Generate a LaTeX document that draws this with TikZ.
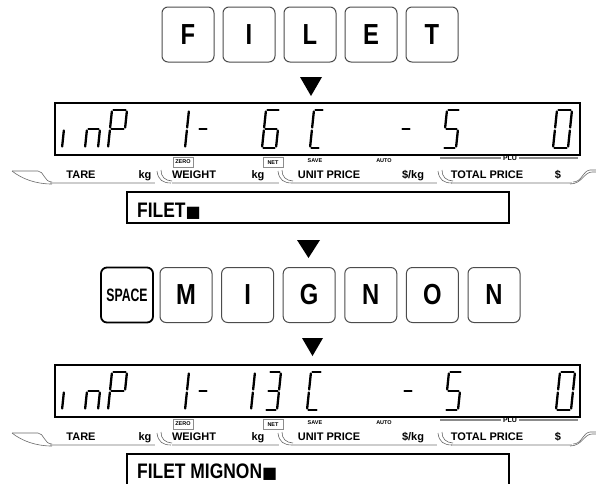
\documentclass[tikz,border=0pt]{standalone}
\usepackage{fontspec}
\setmainfont{Liberation Sans}
\newfontfamily\keyfont[FakeStretch=0.82]{Liberation Sans}
\newfontfamily\spacefont[FakeStretch=0.68]{Liberation Sans}
\newfontfamily\boxfont[FakeStretch=0.83]{Liberation Sans}
\newfontfamily\symfont{DejaVu Sans}
\usepackage{xcolor}
\definecolor{tabgray}{RGB}{205, 205, 205}
\definecolor{linegray}{RGB}{105, 105, 105}

% one seven-segment character: left x, width, bottom y, segments
\newcommand{\lcdchar}[4]{%
  \begin{scope}[shift={(#1,#3)}, xslant=0.105]
    \coordinate (sga1) at (1.5,-38);   \coordinate (sga2) at (#2-1.5,-38);
    \coordinate (sgb1) at (#2,-36.5);  \coordinate (sgb2) at (#2,-20.5);
    \coordinate (sgc1) at (#2,-17.5);  \coordinate (sgc2) at (#2,-1.5);
    \coordinate (sgd1) at (1.5,0);     \coordinate (sgd2) at (#2-1.5,0);
    \coordinate (sge1) at (0,-1.5);    \coordinate (sge2) at (0,-17.5);
    \coordinate (sgf1) at (0,-20.5);   \coordinate (sgf2) at (0,-36.5);
    \coordinate (sgg1) at (1.5,-19);   \coordinate (sgg2) at (#2-1.5,-19);
    \foreach \s in {#4} {\draw[lcdseg] (sg\s1) -- (sg\s2);}
  \end{scope}}

\begin{document}
\begin{tikzpicture}[x=1pt, y=-1pt,
  keybox/.style={draw=black!70, line width=1, rounded corners=6, minimum width=52,
    minimum height=55, inner sep=0, font=\keyfont\bfseries\fontsize{29}{30}\selectfont},
  spacebox/.style={keybox, draw=black, line width=1.8, font=\spacefont\bfseries\fontsize{18}{19}\selectfont},
  lcdframe/.style={draw=black, line width=1.8, fill=white},
  lcdseg/.style={line width=2.3, line cap=round},
  legend/.style={font=\bfseries\fontsize{11}{12}\selectfont, anchor=base, inner sep=0},
  tiny/.style={font=\bfseries\fontsize{5.5}{6}\selectfont, inner sep=0},
  tinybox/.style={tiny, draw=black!45, line width=0.7, minimum width=20, minimum height=10},
  legbar/.style={draw=tabgray, line width=2.6},
  tabline/.style={draw=linegray, line width=0.6},
  entrybox/.style={draw=black, line width=1.3},
  entrytext/.style={font=\boxfont\bfseries\fontsize{21}{22}\selectfont, anchor=base west, inner sep=0}]

  \fill[white] (0,0) rectangle (596,483);
  \useasboundingbox (0,0) rectangle (596,483);

  % keys FILET
  \foreach \ch [count=\i] in {F,I,L,E,T}
    \node[keybox] (ka\i) at (127+61*\i,34.5) {\ch};
  \fill (300,77) -- (322,77) -- (311,96) -- cycle;

  % the two scale displays
  \foreach \dy/\n in {0/1, 262/2} {
    \begin{scope}[shift={(0,\dy)}]
      % legend bars and tabs
      \draw[legbar] (50,183) -- (155,183);
      \draw[legbar] (172,183) -- (279,183);
      \draw[legbar] (292,183) -- (437,183);
      \draw[legbar] (451,183) -- (572,183);
      \draw[tabline] (12,171) -- (38,171) .. controls (44,171) and (44,182) .. (52,182);
      \draw[tabline] (12,171) .. controls (22,179) and (36,184) .. (52,184);
      \foreach \tx in {157, 278, 438} {
        \draw[tabline] (\tx,171) .. controls (\tx+1,180) and (\tx+6,183) .. (\tx+14,183);
        \draw[tabline] (\tx+4,170) .. controls (\tx+4,177) and (\tx+8,180.5) .. (\tx+15,181);
      }
      \draw[tabline] (570,184) .. controls (582,184) and (584,172) .. (592,172) -- (596,172);
      \draw[tabline] (573,182) .. controls (582,182) and (583,170.5) .. (590,170) -- (596,170);
      % legend texts
      \node[legend] (tare\n) at (81,178) {TARE};
      \node[legend] (kga\n) at (145,178) {kg};
      \node[legend] (weight\n) at (194,178) {WEIGHT};
      \node[legend] (kgb\n) at (258,178) {kg};
      \node[legend] (unitp\n) at (329,178) {UNIT PRICE};
      \node[legend] (perkg\n) at (413,178) {\$/kg};
      \node[legend] (totalp\n) at (487,178) {TOTAL PRICE};
      \node[legend] (dollar\n) at (558,178) {\$};
      \node[tinybox] (zero\n) at (183,162) {ZERO};
      \node[tinybox] (net\n) at (273,162.5) {NET};
      \node[tiny] (save\n) at (315,161) {SAVE};
      \node[tiny] (auto\n) at (384,161) {AUTO};
      \draw[draw=black!45, line width=1.4] (440,158) -- (501,158) (519,158) -- (578,158);
      \node[tiny, font=\bfseries\fontsize{7}{7}\selectfont, anchor=north] (plu\n) at (510,155.5) {PLU};
      % frame
      \draw[lcdframe] (55,103) rectangle (580,155);
      % inP 1-
      \lcdchar{62}{12}{148}{e}
      \lcdchar{85}{13}{148}{c,e,g}
      \lcdchar{108}{15}{148}{a,b,e,f,g}
      \lcdchar{185}{10}{148}{e,f}
      \lcdchar{196}{10}{148}{g}
      % entry box
      \draw[entrybox] (127,192) rectangle (509,223);
    \end{scope}
  }

  % first display: 6 C -5 0
  \lcdchar{262}{14}{148}{a,c,d,e,f,g}
  \lcdchar{310}{10}{148}{a,d,e,f}
  \lcdchar{399}{10}{148}{g}
  \lcdchar{443}{13}{148}{a,c,d,f,g}
  \lcdchar{553}{15}{148}{a,b,c,d,e,f}
  \node[entrytext] (entrya) at (137,217) {FILET{\symfont\fontsize{16}{16}\selectfont ■}};

  \fill (297,240) -- (320,240) -- (308.5,258) -- cycle;

  % keys SPACE MIGNON
  \node[spacebox] (space) at (127,295) {SPACE};
  \foreach \ch [count=\i] in {M,I,G,N,O,N}
    \node[keybox] (kb\i) at (124.4+61.6*\i,295) {\ch};
  \fill (302,338) -- (323,338) -- (312.5,356) -- cycle;

  % second display: 13 C -5 0
  \lcdchar{251}{10}{410}{e,f}
  \lcdchar{265}{12}{410}{a,b,c,d,g}
  \lcdchar{307}{11}{410}{a,d,e,f}
  \lcdchar{401}{10}{410}{g}
  \lcdchar{445}{13}{410}{a,c,d,f,g}
  \lcdchar{556}{15}{410}{a,b,c,d,e,f}
  \node[entrytext] (entryb) at (137,478) {FILET MIGNON{\symfont\fontsize{16}{16}\selectfont ■}};

\end{tikzpicture}
\end{document}
